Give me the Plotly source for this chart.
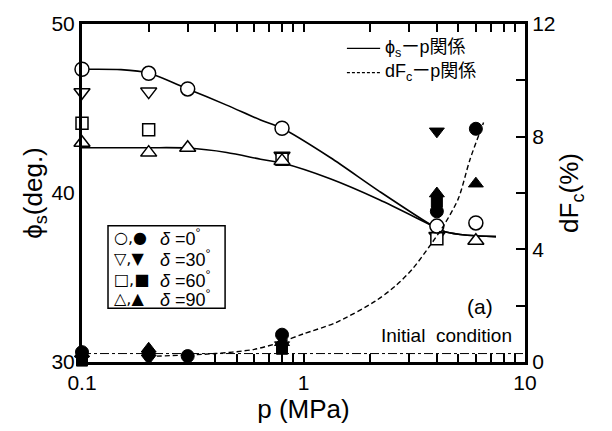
import plotly.graph_objects as go

# ---------------- data ----------------
# phi_s (left axis, deg.)  -- open symbols
p_d0 = [0.1, 0.2, 0.3, 0.8, 4, 6]
phi_d0 = [47.32, 47.08, 46.16, 43.83, 38.04, 38.23]
p_d30 = [0.1, 0.2, 0.8, 4]
phi_d30 = [45.96, 46.0, 42.2, 37.46]
p_d60 = [0.1, 0.2, 0.8, 4]
phi_d60 = [44.13, 43.74, 42.0, 37.3]
p_d90 = [0.1, 0.2, 0.3, 0.8, 6]
phi_d90 = [42.97, 42.39, 42.68, 41.9, 37.17]

# dFc (right axis, %) -- filled symbols
pf_d0 = [0.1, 0.2, 0.3, 0.8, 4, 6]
dfc_d0 = [0.35, 0.3, 0.21, 0.97, 5.35, 8.28]
pf_d30 = [0.1, 0.2, 0.8, 4]
dfc_d30 = [0.1, 0.13, 0.6, 8.19]
pf_d60 = [0.1, 0.8, 4]
dfc_d60 = [0.05, 0.47, 5.69]
pf_d90 = [0.1, 0.2, 0.8, 4, 6]
dfc_d90 = [0.3, 0.47, 0.7, 5.98, 6.33]

# fitted relations
fit_up_p = [0.1, 0.15, 0.2, 0.3, 0.45, 0.64, 0.8, 1.32, 2.2, 3.85, 4.4, 5.5, 7.4]
fit_up_phi = [47.32, 47.3, 47.1, 46.16, 45.2, 44.32, 43.83, 42.1, 40.1, 38.04, 37.69, 37.5, 37.42]
fit_lo_p = [0.1, 0.2, 0.3, 0.45, 0.64, 0.8, 1.32, 2.2, 3.85, 4.4, 5.5, 7.4]
fit_lo_phi = [42.68, 42.68, 42.66, 42.4, 42.0, 41.77, 40.84, 39.6, 38.04, 37.69, 37.5, 37.42]
fit_dfc_p = [0.2, 0.4, 0.6, 0.8, 1.0, 1.4, 2.1, 2.6, 3.1, 3.7, 4.3, 5.0, 5.65, 6.5]
fit_dfc = [0.2, 0.3, 0.45, 0.72, 1.0, 1.4, 2.15, 2.7, 3.3, 4.1, 4.85, 5.8, 7.2, 8.5]

init_p = [0.1, 10]
init_dfc = [0.3, 0.3]

x_ticks = [0.1, 1, 10]
x_ticklabels = ["0.1", "1", "10"]
x_minor = [0.2, 0.3, 0.4, 0.5, 0.6, 0.7, 0.8, 0.9, 2, 3, 4, 5, 6, 7, 8, 9]
y_ticks = [30, 40, 50]
y2_ticks = [0, 4, 8, 12]
y2_minor = [2, 6, 10]

legend_rows = [("○,●", "0"), ("▽,▼", "30"), ("□,■", "60"), ("△,▲", "90")]
line_legend = ["ϕ<sub>s</sub>ーp関係", "dF<sub>c</sub>ーp関係"]

FONT = "Liberation Sans, Arial, Noto Sans CJK JP, sans-serif"

fig = go.Figure()

# fitted lines
fig.add_trace(go.Scatter(x=fit_up_p, y=fit_up_phi, mode="lines", showlegend=False,
                         line=dict(color="black", width=1.6, shape="spline", smoothing=0.8)))
fig.add_trace(go.Scatter(x=fit_lo_p, y=fit_lo_phi, mode="lines", showlegend=False,
                         line=dict(color="black", width=1.6, shape="spline", smoothing=0.8)))
fig.add_trace(go.Scatter(x=fit_dfc_p, y=fit_dfc, mode="lines", yaxis="y2", showlegend=False,
                         line=dict(color="black", width=1.4, dash="5px,3px", shape="spline", smoothing=0.8)))
fig.add_trace(go.Scatter(x=init_p, y=init_dfc, mode="lines", yaxis="y2", showlegend=False,
                         line=dict(color="black", width=1, dash="dashdot")))

def open_pts(x, y, sym, size):
    fig.add_trace(go.Scatter(x=x, y=y, mode="markers", showlegend=False, cliponaxis=False,
                             marker=dict(symbol=sym, size=size, color="white",
                                         line=dict(color="black", width=1.5))))

def filled_pts(x, y, sym, size):
    fig.add_trace(go.Scatter(x=x, y=y, mode="markers", yaxis="y2", showlegend=False, cliponaxis=False,
                             marker=dict(symbol=sym, size=size, color="black",
                                         line=dict(color="black", width=1))))

open_pts(p_d30, phi_d30, "triangle-down", 14)
open_pts(p_d60, phi_d60, "square", 12)
open_pts(p_d90, phi_d90, "triangle-up", 14)
open_pts(p_d0, phi_d0, "circle", 14)

filled_pts(pf_d60, dfc_d60, "square", 11)
filled_pts(pf_d30, dfc_d30, "triangle-down", 13)
filled_pts(pf_d90, dfc_d90, "triangle-up", 13)
filled_pts(pf_d0, dfc_d0, "circle", 13)

# line-style legend (top right)
for yy, dash, txt in zip([0.928, 0.856], ["solid", "3px,2px"], line_legend):
    fig.add_shape(type="line", xref="paper", yref="paper", x0=0.598, x1=0.673, y0=yy, y1=yy,
                  line=dict(color="black", width=1.3, dash=dash))
    fig.add_annotation(x=0.679, y=yy, xref="paper", yref="paper", text=txt, showarrow=False,
                       xanchor="left", yanchor="middle", font=dict(family=FONT, size=18, color="black"))

# symbol legend box
fig.add_shape(type="rect", xref="paper", yref="paper", x0=0.0587, x1=0.323, y0=0.159, y1=0.403,
              line=dict(color="black", width=1.5), fillcolor="white", layer="above")
row_y = [0.368, 0.306, 0.245, 0.188]
for (sym, d), yy in zip(legend_rows, row_y):
    fig.add_annotation(x=0.068, y=yy, xref="paper", yref="paper", text=sym, showarrow=False,
                       xanchor="left", yanchor="middle", font=dict(family="DejaVu Sans", size=16, color="black"))
    fig.add_annotation(x=0.172, y=yy, xref="paper", yref="paper",
                       text=f"<i>δ</i> ={d}<sup>°</sup>", showarrow=False,
                       xanchor="left", yanchor="middle", font=dict(family=FONT, size=18, color="black"))

fig.add_annotation(x=0.898, y=0.165, xref="paper", yref="paper", text="(a)", showarrow=False,
                   xanchor="center", yanchor="middle", font=dict(family=FONT, size=21, color="black"))
fig.add_annotation(x=0.975, y=0.078, xref="paper", yref="paper", text="Initial  condition", showarrow=False,
                   xanchor="right", yanchor="middle", font=dict(family=FONT, size=19, color="black"))

axis_common = dict(showline=True, linecolor="black", linewidth=3, ticks="inside", tickcolor="black",
                   tickwidth=1.5, showgrid=False, zeroline=False,
                   tickfont=dict(family=FONT, size=21, color="black"))

fig.update_layout(
    width=612, height=431,
    margin=dict(l=82, r=87, t=17, b=69),
    paper_bgcolor="white", plot_bgcolor="white",
    font=dict(family=FONT, color="black"),
    xaxis=dict(type="log", range=[-1, 1], tickvals=x_ticks, ticktext=x_ticklabels, ticklen=8,
               mirror="ticks",
               minor=dict(tickmode="array", tickvals=x_minor, ticks="inside", ticklen=8,
                          tickcolor="black", tickwidth=1.5, showgrid=False),
               title=dict(text="p (MPa)", font=dict(family=FONT, size=26), standoff=4),
               **axis_common),
    yaxis=dict(range=[30, 50], tickvals=y_ticks, ticklen=0,
               title=dict(text="ϕ<sub>s</sub>(deg.)", font=dict(family=FONT, size=26), standoff=2),
               **axis_common),
    yaxis2=dict(range=[0, 12], overlaying="y", side="right", tickvals=y2_ticks,
                ticklen=9,
                minor=dict(tickmode="array", tickvals=y2_minor, ticks="inside", ticklen=9,
                           tickcolor="black", tickwidth=1.5, showgrid=False),
                title=dict(text="dF<sub>c</sub>(%)", font=dict(family=FONT, size=26), standoff=6),
                **axis_common),
    showlegend=False,
)

fig.write_html("out.html")
